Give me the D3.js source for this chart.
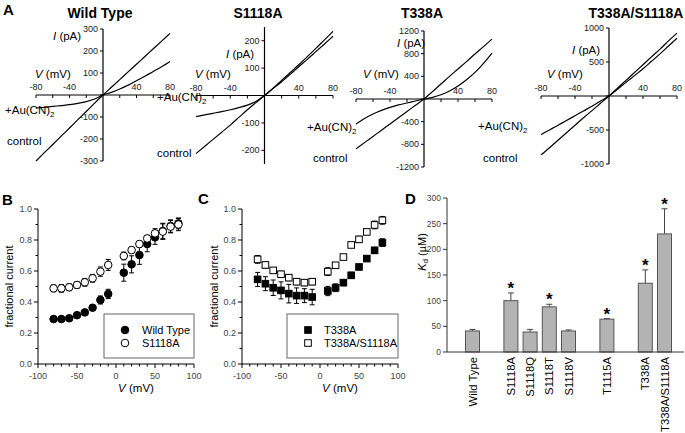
<!DOCTYPE html>
<html><head><meta charset="utf-8">
<script src="https://cdn.jsdelivr.net/npm/d3@7"></script>
<style>body{margin:0;background:#fff}svg{display:block;font-family:"Liberation Sans",Arial,sans-serif}</style>
</head><body><svg id="c" width="685" height="433"></svg>
<script>
// ---------- DATA ----------
const ivVoltage = [-80,-70,-60,-50,-40,-30,-20,-10,0,10,20,30,40,50,60,70,80];
const wtControl = [-300,-262,-225,-187,-150,-112,-75,-37,0,35,70,105,140,175,210,245,280];
const wtAu      = [-60,-56,-52,-48,-44,-38,-30,-18,0,12,27,45,65,85,107,128,152];
const s1118aControl = [-212,-186,-160,-134,-108,-80,-52,-26,0,27,55,84,112,142,172,203,234];
const s1118aAu      = [-77,-71,-65,-59,-52,-44,-35,-22,0,25,50,77,105,132,160,188,216];
const t338aControl = [-880,-770,-660,-550,-440,-330,-220,-110,0,130,265,400,530,660,795,925,1057];
const t338aAu      = [-440,-345,-264,-200,-148,-105,-71,-35,0,30,75,140,229,340,470,630,810];
const tsControl = [-866,-760,-650,-540,-430,-320,-215,-107,0,115,230,345,460,575,690,810,925];
const tsAu      = [-567,-500,-430,-360,-290,-220,-150,-75,0,100,200,300,400,510,620,735,850];

const fracVoltage = [-80,-70,-60,-50,-40,-30,-20,-10,10,20,30,40,50,60,70,80];
const wtFrac    = [0.29,0.29,0.295,0.315,0.333,0.363,0.413,0.452,0.589,0.643,0.703,0.774,0.817,0.858,0.89,0.907];
const wtFracErr = [0.012,0.012,0.012,0.012,0.012,0.015,0.026,0.03,0.055,0.055,0.06,0.05,0.045,0.05,0.04,0.035];
const s1118aFrac    = [0.488,0.488,0.495,0.51,0.527,0.553,0.596,0.639,0.697,0.735,0.774,0.81,0.843,0.854,0.886,0.9];
const s1118aFracErr = [0.022,0.025,0.022,0.022,0.025,0.025,0.03,0.035,0.025,0.02,0.02,0.02,0.03,0.05,0.04,0.04];
const t338aFrac    = [0.546,0.518,0.492,0.475,0.454,0.441,0.441,0.432,0.471,0.492,0.525,0.572,0.626,0.68,0.733,0.783];
const t338aFracErr = [0.045,0.045,0.05,0.055,0.06,0.05,0.045,0.05,0.03,0.025,0.02,0.02,0.015,0.015,0.02,0.025];
const tsFrac    = [0.675,0.639,0.604,0.579,0.557,0.531,0.525,0.531,0.596,0.637,0.69,0.768,0.804,0.852,0.897,0.927];
const tsFracErr = [0.025,0.02,0.015,0.02,0.02,0.02,0.02,0.02,0.025,0.015,0.015,0.015,0.02,0.015,0.025,0.025];

const kdGroups = [["Wild Type"],["S1118A","S1118Q","S1118T","S1118V"],["T1115A"],["T338A","T338A/S1118A"]];
const kdValues = {"Wild Type":41,"S1118A":100,"S1118Q":39,"S1118T":88,"S1118V":41,"T1115A":64,"T338A":134,"T338A/S1118A":230};
const kdErrors = {"Wild Type":3,"S1118A":15,"S1118Q":5,"S1118T":5,"S1118V":2,"T1115A":1,"T338A":26,"T338A/S1118A":49};
const kdSignificant = ["S1118A","S1118T","T1115A","T338A","T338A/S1118A"];
const kdTicks = [0,50,100,150,200,250,300];

// ---------- DRAW ----------
const svg = d3.select("#c");
svg.append("rect").attr("width",685).attr("height",433).attr("fill","#fff");

function panelLetter(t,x,y){
  svg.append("text").attr("x",x).attr("y",y).text(t).attr("font-weight","bold").attr("font-size",15).attr("fill","#000");
}

function auLabel(g,x,y){
  const t = g.append("text").attr("x",x).attr("y",y).attr("font-size",11.5).attr("fill","#000");
  t.append("tspan").text("+Au(CN)");
  t.append("tspan").text("2").attr("font-size",8).attr("dy",3);
}

function drawIV(cfg){
  const g = svg.append("g");
  const x = d3.scaleLinear([-80,80],[cfg.xl,cfg.xr]);
  const y = d3.scaleLinear([-cfg.ymax,cfg.ymax],[cfg.yb,cfg.yt]);
  const x0 = x(0), y0 = y(0);
  g.append("text").attr("x",cfg.tx).attr("y",18).attr("text-anchor","middle")
    .attr("font-weight","bold").attr("font-size",14).text(cfg.title);
  g.append("line").attr("x1",x(-80)).attr("x2",x(80)).attr("y1",y0).attr("y2",y0).attr("stroke","#000").attr("stroke-width",1.2);
  [-80,-60,-40,-20,20,40,60,80].forEach(v=>{
    g.append("line").attr("x1",x(v)).attr("x2",x(v)).attr("y1",y0).attr("y2",y0+3).attr("stroke","#000");
  });
  [-80,-40,40,80].forEach(v=>{
    g.append("text").attr("x",x(v)).attr("y",y0-5).attr("text-anchor","middle").attr("font-size",9).attr("fill","#222").text(v);
  });
  g.append("line").attr("x1",x0).attr("x2",x0).attr("y1",y(-cfg.ymax)).attr("y2",y(cfg.ymax)).attr("stroke","#000").attr("stroke-width",1.2);
  cfg.yticks.forEach(v=>{
    g.append("line").attr("x1",x0-3).attr("x2",x0).attr("y1",y(v)).attr("y2",y(v)).attr("stroke","#000");
    if(v!==0) g.append("text").attr("x",x0-5).attr("y",y(v)+3).attr("text-anchor","end").attr("font-size",9).attr("fill","#222").text(v);
  });
  const il = g.append("text").attr("x",cfg.il[0]).attr("y",cfg.il[1]).attr("font-size",11.5);
  il.append("tspan").text("I").attr("font-style","italic"); il.append("tspan").text(" (pA)");
  const vl = g.append("text").attr("x",cfg.vl[0]).attr("y",cfg.vl[1]).attr("font-size",11.5);
  vl.append("tspan").text("V").attr("font-style","italic"); vl.append("tspan").text(" (mV)");
  const line = d3.line().x((d,i)=>x(ivVoltage[i])).y(d=>y(d)).curve(d3.curveMonotoneX);
  [cfg.control,cfg.au].forEach(arr=>{
    g.append("path").attr("d",line(arr)).attr("fill","none").attr("stroke","#000").attr("stroke-width",1.2);
  });
  auLabel(svg,cfg.al[0],cfg.al[1]);
  svg.append("text").attr("x",cfg.cl[0]).attr("y",cfg.cl[1]).attr("font-size",11.5).text("control");
}

panelLetter("A",3,15);
drawIV({title:"Wild Type",tx:100,xl:36,xr:170,yt:29,yb:161,ymax:300,yticks:[-300,-200,-100,0,100,200,300],
  control:wtControl,au:wtAu,il:[53,40],vl:[35,78],al:[5,114],cl:[7,145]});
drawIV({title:"S1118A",tx:258,xl:196,xr:333,yt:27,yb:164,ymax:250,yticks:[-200,-100,0,100,200],
  control:s1118aControl,au:s1118aAu,il:[226,58],vl:[195,78],al:[157,101],cl:[157,157]});
drawIV({title:"T338A",tx:422,xl:356,xr:492,yt:31,yb:167,ymax:1200,yticks:[-1200,-800,-400,0,400,800,1200],
  control:t338aControl,au:t338aAu,il:[397,47],vl:[363,78],al:[307,131],cl:[313,162]});
drawIV({title:"T338A/S1118A",tx:636,xl:541,xr:677,yt:28,yb:164,ymax:1000,yticks:[-1000,-500,0,500,1000],
  control:tsControl,au:tsAu,il:[572,54],vl:[547,78],al:[478,130],cl:[483,162]});

// ---------- B & C ----------
function marker(g,shape,filled,cx,cy){
  if(shape==="circle") g.append("circle").attr("cx",cx).attr("cy",cy).attr("r",3.8).attr("fill",filled?"#000":"#fff").attr("stroke","#000").attr("stroke-width",1);
  else g.append("rect").attr("x",cx-3.3).attr("y",cy-3.3).attr("width",6.6).attr("height",6.6).attr("fill",filled?"#000":"#fff").attr("stroke","#000").attr("stroke-width",1);
}
function drawFrac(cfg){
  const g = svg.append("g");
  const x = d3.scaleLinear([-100,100],[cfg.xl,cfg.xr]);
  const y = d3.scaleLinear([0,1],[cfg.yb,cfg.yt]);
  const axisCol = "#000", lblCol="#444";
  g.append("line").attr("x1",cfg.xl).attr("x2",cfg.xr).attr("y1",cfg.yb).attr("y2",cfg.yb).attr("stroke",axisCol);
  d3.range(-100,101,10).forEach(v=>{
    const major = v%50===0;
    g.append("line").attr("x1",x(v)).attr("x2",x(v)).attr("y1",cfg.yb).attr("y2",cfg.yb+(major?4:2.5)).attr("stroke",axisCol);
    if(major) g.append("text").attr("x",x(v)).attr("y",cfg.yb+15).attr("text-anchor","middle").attr("font-size",9).attr("fill",lblCol).text(v);
  });
  g.append("line").attr("x1",cfg.xl).attr("x2",cfg.xl).attr("y1",cfg.yb).attr("y2",cfg.yt).attr("stroke",axisCol);
  d3.range(0,11).forEach(i=>{
    const v=i/10, major=i%2===0;
    g.append("line").attr("x1",cfg.xl-(major?4:2.5)).attr("x2",cfg.xl).attr("y1",y(v)).attr("y2",y(v)).attr("stroke",axisCol);
    if(major) g.append("text").attr("x",cfg.xl-6).attr("y",y(v)+3).attr("text-anchor","end").attr("font-size",9).attr("fill",lblCol).text(v.toFixed(1));
  });
  g.append("text").attr("transform",`translate(${cfg.ylx},${(cfg.yt+cfg.yb)/2}) rotate(-90)`).attr("text-anchor","middle").attr("font-size",11).text("fractional current");
  const vl = g.append("text").attr("x",cfg.vlx).attr("y",cfg.yb+28).attr("text-anchor","middle").attr("font-size",11.5);
  vl.append("tspan").text("V").attr("font-style","italic"); vl.append("tspan").text(" (mV)");
  cfg.series.forEach(s=>{
    s.vals.forEach((v,i)=>{
      const cx=x(fracVoltage[i]), e=s.err[i];
      g.append("line").attr("x1",cx).attr("x2",cx).attr("y1",y(v-e)).attr("y2",y(v+e)).attr("stroke","#000").attr("stroke-width",1);
      [v-e,v+e].forEach(w=>g.append("line").attr("x1",cx-2.5).attr("x2",cx+2.5).attr("y1",y(w)).attr("y2",y(w)).attr("stroke","#000"));
    });
  });
  cfg.series.forEach(s=>{
    s.vals.forEach((v,i)=>marker(g,s.shape,s.filled,x(fracVoltage[i]),y(v)));
  });
  const L=cfg.legend;
  g.append("rect").attr("x",L.x).attr("y",L.y).attr("width",L.w).attr("height",L.h).attr("fill","#fff").attr("stroke","#666");
  cfg.series.forEach((s,i)=>{
    marker(g,s.shape,s.filled,L.mx,L.y+16+i*13);
    g.append("text").attr("x",L.tx).attr("y",L.y+20+i*13).attr("font-size",11).text(s.name);
  });
}

panelLetter("B",2,205);
drawFrac({xl:38,xr:194,yt:209,yb:364,ylx:13,vlx:136,
  legend:{x:104,y:314,w:90,h:44,mx:125,tx:142},
  series:[{name:"Wild Type",vals:wtFrac,err:wtFracErr,shape:"circle",filled:true},
          {name:"S1118A",vals:s1118aFrac,err:s1118aFracErr,shape:"circle",filled:false}]});
panelLetter("C",198,204);
drawFrac({xl:242,xr:398,yt:209,yb:364,ylx:218,vlx:340,
  legend:{x:287,y:314,w:111,h:44,mx:308,tx:324},
  series:[{name:"T338A",vals:t338aFrac,err:t338aFracErr,shape:"square",filled:true},
          {name:"T338A/S1118A",vals:tsFrac,err:tsFracErr,shape:"square",filled:false}]});

// ---------- D ----------
panelLetter("D",405,204);
(function(){
  const g = svg.append("g");
  const slots=[]; const names=[];
  let idx=0;
  kdGroups.forEach((grp,gi)=>{ if(gi>0) idx++; grp.forEach(n=>{slots.push(idx); names.push(n); idx++;}); });
  const x = d3.scaleLinear([0,idx-1],[472.5,664.5]);
  const y = d3.scaleLinear([0,300],[352,198]);
  const bw = 14;
  const x0=447;
  g.append("line").attr("x1",x0).attr("x2",x0).attr("y1",352).attr("y2",198).attr("stroke","#333");
  kdTicks.forEach(v=>{
    g.append("line").attr("x1",x0-4).attr("x2",x0).attr("y1",y(v)).attr("y2",y(v)).attr("stroke","#333");
    g.append("text").attr("x",x0-6).attr("y",y(v)+3).attr("text-anchor","end").attr("font-size",8.5).attr("fill","#444").text(v);
  });
  const kl = g.append("text").attr("transform","translate(426,252) rotate(-90)").attr("text-anchor","middle").attr("font-size",11);
  kl.append("tspan").text("K").attr("font-style","italic");
  kl.append("tspan").text("d").attr("font-size",8).attr("dy",2);
  kl.append("tspan").text(" (\u00B5M)").attr("dy",-2);
  names.forEach((n,i)=>{
    const cx=x(slots[i]), v=kdValues[n], e=kdErrors[n];
    g.append("line").attr("x1",cx).attr("x2",cx).attr("y1",y(v)).attr("y2",y(v+e)).attr("stroke","#444");
    g.append("line").attr("x1",cx-3).attr("x2",cx+3).attr("y1",y(v+e)).attr("y2",y(v+e)).attr("stroke","#444");
    g.append("rect").attr("x",cx-bw/2).attr("y",y(v)).attr("width",bw).attr("height",352-y(v)).attr("fill","#b3b3b3").attr("stroke","#555").attr("stroke-width",1);
    if(kdSignificant.includes(n)) g.append("text").attr("x",cx).attr("y",y(v+e)+1).attr("text-anchor","middle").attr("font-size",17).attr("font-weight","bold").text("*");
    g.append("text").attr("transform",`translate(${cx+4},${357}) rotate(-90)`).attr("text-anchor","end").attr("font-size",11.3).text(n);
  });
  g.append("line").attr("x1",x0).attr("x2",684).attr("y1",352).attr("y2",352).attr("stroke","#333");
})();
</script></body></html>
